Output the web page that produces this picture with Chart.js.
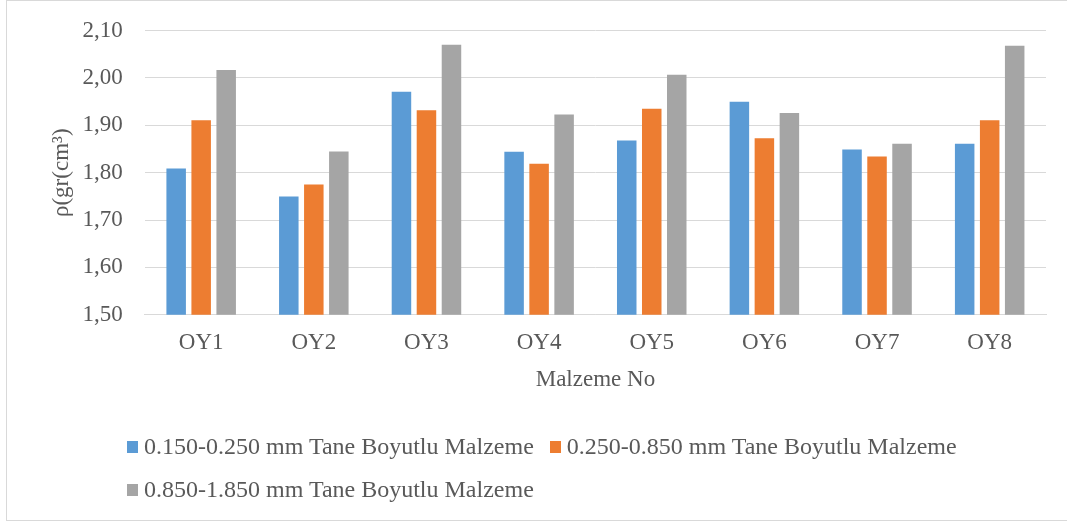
<!DOCTYPE html>
<html>
<head>
<meta charset="utf-8">
<script src="https://cdn.jsdelivr.net/npm/chart.js@4.4.1/dist/chart.umd.min.js"></script>
<style>
    body { margin: 0; background: #fff; }
    #wrap { position: relative; width: 1067px; height: 523px; overflow: hidden; }
    #frame { position: absolute; left: 6px; top: 0; width: 1075px; height: 519px; border: 1px solid #d9d9d9; }
    #box { position: absolute; left: 0; top: 0; width: 1067px; height: 523px; }
    #legend { position: absolute; left: 127px; top: 425px; width: 900px; display: flex; flex-wrap: wrap;
              font-family: "Liberation Serif", serif; font-size: 24px; color: #595959; }
    .item { display: flex; align-items: center; height: 43px; margin-right: 16px; }
    .sq { width: 11px; height: 12px; margin-right: 6px; }
</style>
</head>
<body>
<div id="wrap">
    <div id="frame"></div>
    <div id="box"><canvas id="densityChart"></canvas></div>
    <div id="legend"></div>
</div>
<script>
// Malzeme numaraları
const categories = ['OY1', 'OY2', 'OY3', 'OY4', 'OY5', 'OY6', 'OY7', 'OY8'];

// Seri isimleri
const seriesLabels = [
    '0.150-0.250 mm Tane Boyutlu Malzeme',
    '0.250-0.850 mm Tane Boyutlu Malzeme',
    '0.850-1.850 mm Tane Boyutlu Malzeme'
];

// Yoğunluk değerleri
const fineValues   = [1.809, 1.750, 1.971, 1.844, 1.868, 1.950, 1.849, 1.861];
const mediumValues = [1.911, 1.775, 1.932, 1.819, 1.935, 1.873, 1.834, 1.911];
const coarseValues = [2.017, 1.845, 2.070, 1.923, 2.007, 1.926, 1.861, 2.068];

// Y ekseni sınırları
const yMin = 1.5;
const yMax = 2.1;
const yStep = 0.1;

const colors = ['#5b9bd5', '#ed7d31', '#a5a5a5'];
const textColor = '#595959';
const gridColor = '#d9d9d9';
const serif = 'Liberation Serif';

const allValues = [fineValues, mediumValues, coarseValues];

const chart = new Chart(document.getElementById('densityChart'), {
    type: 'bar',
    data: {
        labels: categories,
        datasets: allValues.map((vals, i) => ({
            label: seriesLabels[i],
            data: vals,
            backgroundColor: colors[i],
            categoryPercentage: 0.666,
            barPercentage: 0.78
        }))
    },
    options: {
        responsive: true,
        maintainAspectRatio: false,
        animation: false,
        devicePixelRatio: 1,
        layout: { padding: { left: 48, right: 21, top: 7, bottom: 129 } },
        plugins: {
            legend: { display: false },
            tooltip: { enabled: false }
        },
        scales: {
            x: {
                grid: { display: false },
                border: { color: gridColor, width: 1 },
                ticks: { color: textColor, font: { family: serif, size: 23 }, padding: 6 },
                title: {
                    display: true,
                    text: 'Malzeme No',
                    color: textColor,
                    font: { family: serif, size: 23 },
                    padding: { top: 4, bottom: 0 }
                }
            },
            y: {
                min: yMin,
                max: yMax,
                grid: { color: gridColor, lineWidth: 1, drawTicks: false },
                border: { display: false },
                ticks: {
                    stepSize: yStep,
                    color: textColor,
                    // lineHeight küçük: üst boşluk fazla olmasın
                    font: { family: serif, size: 23, lineHeight: 0.75 },
                    padding: 22,
                    callback: v => v.toFixed(2).replace('.', ',')
                },
                title: {
                    display: true,
                    text: 'ρ(gr(cm³)',
                    color: textColor,
                    font: { family: serif, size: 23 },
                    padding: { top: 0, bottom: -15 }
                }
            }
        }
    }
});

// Lejant (HTML olarak)
const legend = document.getElementById('legend');
chart.data.datasets.forEach(ds => {
    const item = document.createElement('div');
    item.className = 'item';
    const sq = document.createElement('span');
    sq.className = 'sq';
    sq.style.background = ds.backgroundColor;
    const txt = document.createElement('span');
    txt.textContent = ds.label;
    item.appendChild(sq);
    item.appendChild(txt);
    legend.appendChild(item);
});
</script>
</body>
</html>
